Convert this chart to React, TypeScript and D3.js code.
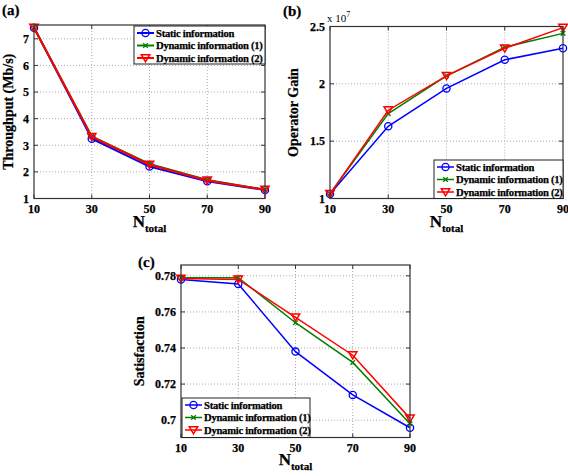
import React from "react";
import * as d3 from "d3";

const nValues = [10, 30, 50, 70, 90];
const seriesNames = ["Static information", "Dynamic information (1)", "Dynamic information (2)"];

const throughputStatic = [7.42, 3.25, 2.2, 1.65, 1.32];
const throughputDyn1 = [7.42, 3.33, 2.3, 1.7, 1.33];
const throughputDyn2 = [7.42, 3.32, 2.27, 1.68, 1.33];
const throughputTicks = [1, 2, 3, 4, 5, 6, 7];

const gainStatic = [1.04, 1.63, 1.96, 2.21, 2.31];
const gainDyn1 = [1.04, 1.74, 2.07, 2.32, 2.44];
const gainDyn2 = [1.04, 1.77, 2.07, 2.31, 2.49];
const gainTicks = [1, 1.5, 2, 2.5];

const satStatic = [0.778, 0.7755, 0.738, 0.714, 0.6958];
const satDyn1 = [0.779, 0.779, 0.754, 0.732, 0.698];
const satDyn2 = [0.7785, 0.778, 0.757, 0.736, 0.701];
const satTicks = [0.7, 0.72, 0.74, 0.76, 0.78];

const COLORS = ["#0000ff", "#008000", "#ff0000"];
const FONT = "'Liberation Serif', 'Times New Roman', serif";
const TS = { stroke: "#000", strokeWidth: 0.25 } as React.CSSProperties;

function Marker({ kind, x, y, color }: { kind: number; x: number; y: number; color: string }) {
  if (kind === 0) return <circle cx={x} cy={y} r={3.6} fill="none" stroke={color} strokeWidth={1.3} />;
  if (kind === 1) {
    const s = 2.3;
    return (
      <path d={`M${x - s},${y - s}L${x + s},${y + s}M${x - s},${y + s}L${x + s},${y - s}`} stroke={color} strokeWidth={1.3} />
    );
  }
  const s = 4.2;
  return (
    <path d={`M${x - s},${y - s * 0.8}L${x + s},${y - s * 0.8}L${x},${y + s * 0.9}Z`} fill="none" stroke={color} strokeWidth={1.5} />
  );
}

type PanelProps = {
  label: string;
  left: number; right: number; top: number; bottom: number;
  yDomain: [number, number];
  yTicks: number[];
  yFmt: (v: number) => string;
  series: number[][];
  yLabel: string;
  yLabelX: number;
  labelPos: [number, number];
  legend: { x: number; y: number; w: number; h: number };
  lineWidth: number;
  nTotalY: number;
  exponent?: boolean;
};

function Panel(p: PanelProps) {
  const x = d3.scaleLinear().domain([10, 90]).range([p.left, p.right]);
  const y = d3.scaleLinear().domain(p.yDomain).range([p.bottom, p.top]);
  const line = d3.line<number>().x((_, i) => x(nValues[i])).y((d) => y(d));
  const tl = 4;
  const cx = (p.left + p.right) / 2;
  return (
    <g fontFamily={FONT} fontWeight="bold">
      <text x={p.labelPos[0]} y={p.labelPos[1]} fontSize={15} style={TS}>{p.label}</text>
      {nValues.slice(1, -1).map((v) => (
        <line key={"gx" + v} x1={x(v)} x2={x(v)} y1={p.top} y2={p.bottom} stroke="#aaa" strokeDasharray="1,2" strokeWidth={1} />
      ))}
      {p.yTicks.filter((v) => y(v) > p.top + 1 && y(v) < p.bottom - 1).map((v) => (
        <line key={"gy" + v} x1={p.left} x2={p.right} y1={y(v)} y2={y(v)} stroke="#aaa" strokeDasharray="1,2" strokeWidth={1} />
      ))}
      {nValues.map((v) => (
        <g key={"tx" + v}>
          <line x1={x(v)} x2={x(v)} y1={p.bottom} y2={p.bottom - tl} stroke="#333" />
          <line x1={x(v)} x2={x(v)} y1={p.top} y2={p.top + tl} stroke="#333" />
          <text x={x(v)} y={p.bottom + 14} textAnchor="middle" fontSize={12} style={TS}>{v}</text>
        </g>
      ))}
      {p.yTicks.map((v) => (
        <g key={"ty" + v}>
          <line x1={p.left} x2={p.left + tl} y1={y(v)} y2={y(v)} stroke="#333" />
          <line x1={p.right} x2={p.right - tl} y1={y(v)} y2={y(v)} stroke="#333" />
          <text x={p.left - 5} y={y(v) + 4.3} textAnchor="end" fontSize={12} style={TS}>{p.yFmt(v)}</text>
        </g>
      ))}
      {p.exponent && (
        <text x={p.left - 3} y={p.top - 5} fontSize={11} fontWeight="normal">
          x 10<tspan dy={-5} fontSize={8}>7</tspan>
        </text>
      )}
      {p.series.map((s, k) => (
        <g key={"s" + k}>
          <path d={line(s) || ""} fill="none" stroke={COLORS[k]} strokeWidth={p.lineWidth} />
          {s.map((v, i) => (
            <Marker key={i} kind={k} x={x(nValues[i])} y={y(v)} color={COLORS[k]} />
          ))}
        </g>
      ))}
      <rect x={p.left} y={p.top} width={p.right - p.left} height={p.bottom - p.top} fill="none" stroke="#333" strokeWidth={1.2} />
      <rect x={p.legend.x} y={p.legend.y} width={p.legend.w} height={p.legend.h} fill="#fff" stroke="#222" strokeWidth={1} />
      {seriesNames.map((n, k) => {
        const ly = p.legend.y + 7 + k * 12.5;
        return (
          <g key={"l" + k}>
            <line x1={p.legend.x + 3} x2={p.legend.x + 20} y1={ly} y2={ly} stroke={COLORS[k]} strokeWidth={p.lineWidth} />
            <Marker kind={k} x={p.legend.x + 11.5} y={ly} color={COLORS[k]} />
            <text x={p.legend.x + 22} y={ly + 3.8} fontSize={10.6} letterSpacing={-0.25} style={TS}>{n}</text>
          </g>
        );
      })}
      <text transform={`translate(${p.yLabelX},${(p.top + p.bottom) / 2}) rotate(-90)`} textAnchor="middle" fontSize={14} style={TS}>{p.yLabel}</text>
      <text x={cx} y={p.nTotalY} textAnchor="middle" fontSize={17} style={TS}>
        N<tspan dy={5} fontSize={11}>total</tspan>
      </text>
    </g>
  );
}

export default function App() {
  return (
    <svg width={568} height={476} style={{ position: "absolute", left: 0, top: 0, background: "#fff" }}>
      <rect width={568} height={476} fill="#fff" />
      <Panel
        label="(a)" labelPos={[2, 15]}
        left={34} right={265} top={25} bottom={198.5}
        yDomain={[1, 7.52]} yTicks={throughputTicks} yFmt={(v) => String(v)}
        series={[throughputStatic, throughputDyn1, throughputDyn2]}
        yLabel="Throughput (Mb/s)" yLabelX={13}
        legend={{ x: 134, y: 26, w: 131, h: 38 }}
        lineWidth={2}
        nTotalY={227}
      />
      <Panel
        label="(b)" labelPos={[283, 16]}
        left={330} right={563} top={26.5} bottom={198.5}
        yDomain={[1, 2.5]} yTicks={gainTicks} yFmt={(v) => String(v)}
        series={[gainStatic, gainDyn1, gainDyn2]}
        yLabel="Operator Gain" yLabelX={298}
        legend={{ x: 434, y: 160, w: 129, h: 38.5 }}
        lineWidth={1.5}
        nTotalY={227}
        exponent
      />
      <Panel
        label="(c)" labelPos={[138, 267]}
        left={181} right={410} top={265} bottom={437.5}
        yDomain={[0.6904, 0.786]} yTicks={satTicks} yFmt={(v) => (v === 0.7 ? "0.7" : d3.format(".2f")(v))}
        series={[satStatic, satDyn1, satDyn2]}
        yLabel="Satisfaction" yLabelX={144}
        legend={{ x: 182, y: 398, w: 128, h: 39.5 }}
        lineWidth={1.5}
        nTotalY={465}
      />
    </svg>
  );
}
